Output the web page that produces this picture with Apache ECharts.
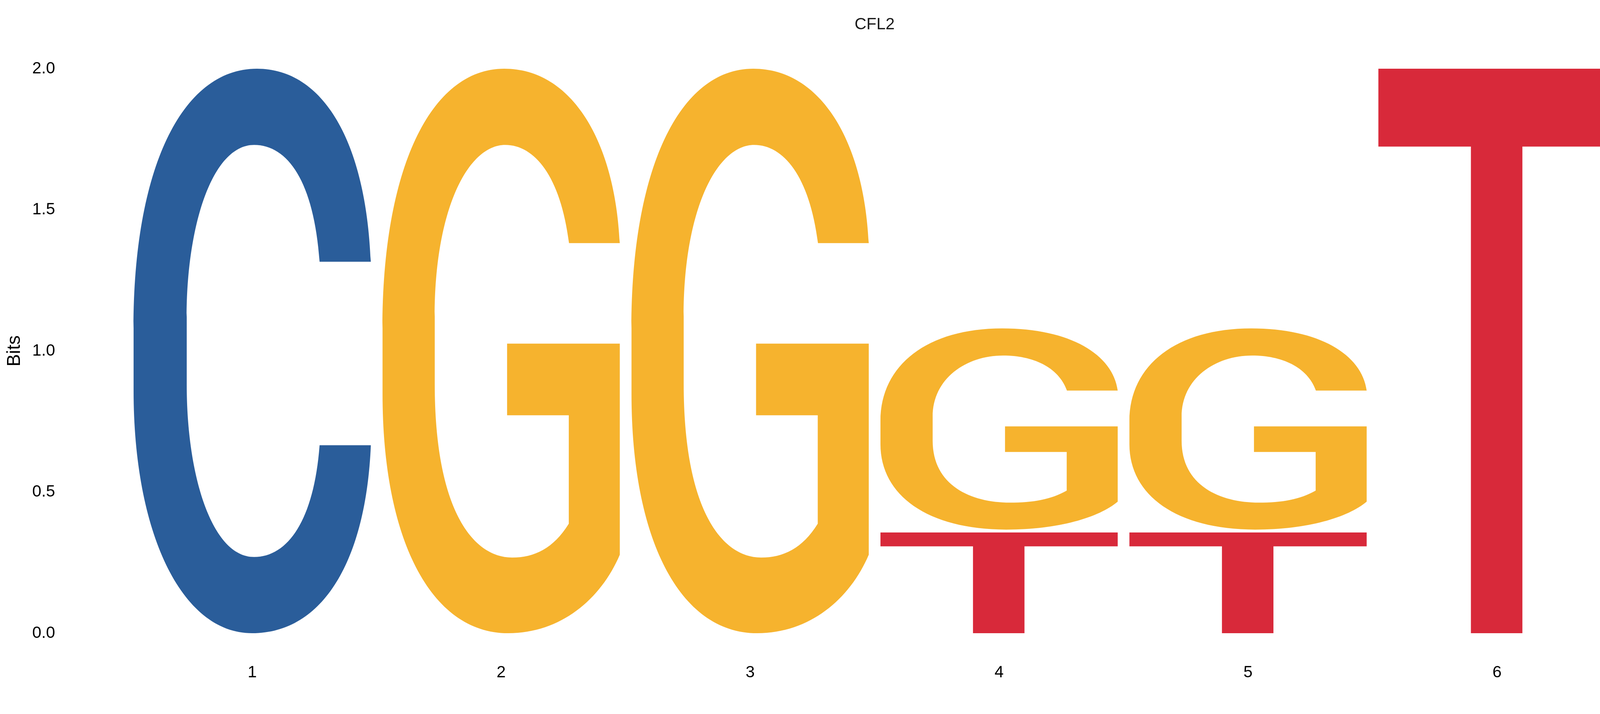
<!DOCTYPE html>
<html>
<head>
<meta charset="utf-8">
<script src="https://cdn.jsdelivr.net/npm/echarts@6/dist/echarts.min.js"></script>
<style>
html,body{margin:0;padding:0;background:#fff;}
#chart{width:4350px;height:1829px;}
</style>
</head>
<body>
<div id="chart"></div>
<script>
// ---- data ----
const positions = ['1', '2', '3', '4', '5', '6'];
const bitsC = [2.0, 0, 0, 0, 0, 0];
const bitsG = [0, 2.0, 2.0, 0.718, 0.718, 0];
const bitsT = [0, 0, 0, 0.362, 0.362, 2.0];
const bitsA = [0, 0, 0, 0, 0, 0];
const yTicks = [0, 0.5, 1.0, 1.5, 2.0];
const titleText = 'CFL2';
const yName = 'Bits';

// ---- glyph outlines (normalised 0..100 boxes) ----
const glyphs = {
  C: 'M100 34.2 C98 13 80 0 52 0 C20 0 0 18 0 46 L0 57 C0 82 20 100 50 100 C80 100 98 87 100 66.7 L78.4 66.7 C76 80 65 86.5 50.8 86.5 C33 86.5 22.4 72 22.4 56 L22.4 44 C22.4 28 33 13.5 50.8 13.5 C65 13.5 76 20 78.4 34.2 Z',
  G: 'M100 30.9 C98 13 80 0 51.3 0 C20 0 0 18 0 46 L0 57.6 C0 83 20 100 53 100 C75 100 92 94 100 86.1 L100 48.7 L52.5 48.7 L52.5 61.4 L78.5 61.4 L78.5 80.6 C72 85 64 86.6 54.6 86.6 C38 86.6 22 78 22 55.8 L22 43.9 C22 25 36 13.5 51.7 13.5 C64 13.5 75 19 78.6 30.9 Z',
  T: 'M0 0 L100 0 L100 13.8 L60.7 13.8 L60.7 100 L39 100 L39 13.8 L0 13.8 Z',
  A: 'M0 100 L38 0 L62 0 L100 100 L77 100 L69 78 L31 78 L23 100 Z M37 61 L63 61 L50 24 Z'
};
const colors = { C: '#2A5D9A', G: '#F6B32E', T: '#D8293A', A: '#3A9B47' };

// build stacked letter records (smallest at bottom)
const records = [];
positions.forEach(function (p, i) {
  const items = [['A', bitsA[i]], ['C', bitsC[i]], ['G', bitsG[i]], ['T', bitsT[i]]]
    .filter(function (d) { return d[1] > 0; })
    .sort(function (a, b) { return a[1] - b[1]; });
  let base = 0;
  items.forEach(function (d, k) {
    records.push({ value: [i, base, base + d[1]], letter: d[0], first: k === 0, last: k === items.length - 1 });
    base += d[1];
  });
});

const widthFrac = 0.953;
const stackGap = 0.005;

function renderItem(params, api) {
  const rec = records[params.dataIndex];
  const xi = api.value(0);
  let y0 = api.value(1), y1 = api.value(2);
  if (!rec.first) y0 += stackGap;
  if (!rec.last) y1 -= stackGap;
  const pb = api.coord([xi, y0]);
  const pt = api.coord([xi, y1]);
  const bw = api.size([1, 0])[0] * widthFrac;
  return {
    type: 'path',
    shape: {
      pathData: glyphs[rec.letter],
      x: pb[0] - bw / 2,
      y: pt[1],
      width: bw,
      height: pb[1] - pt[1],
      layout: 'cover'
    },
    style: { fill: colors[rec.letter], stroke: null }
  };
}

const FONT = '"Liberation Sans", Arial, sans-serif';
const chart = echarts.init(document.getElementById('chart'), null, { renderer: 'canvas' });
chart.setOption({
  animation: false,
  backgroundColor: '#ffffff',
  graphic: [{
    type: 'text',
    x: 2239, y: 63,
    style: { text: titleText, fontFamily: FONT, fontSize: 42, fill: '#1a1a1a', align: 'center', verticalAlign: 'middle' }
  }],
  grid: { left: 327, right: 199, top: 176, bottom: 207 },
  xAxis: {
    type: 'category',
    data: positions,
    boundaryGap: true,
    axisLine: { show: false },
    axisTick: { show: false },
    splitLine: { show: false },
    axisLabel: { fontFamily: FONT, fontSize: 42, color: '#000', margin: 80 }
  },
  yAxis: {
    type: 'value',
    min: yTicks[0],
    max: yTicks[yTicks.length - 1],
    interval: 0.5,
    name: yName,
    nameLocation: 'middle',
    nameGap: 265,
    nameTextStyle: { fontFamily: FONT, fontSize: 48, color: '#000' },
    axisLine: { show: false },
    axisTick: { show: false },
    splitLine: { show: false },
    axisLabel: {
      fontFamily: FONT, fontSize: 42, color: '#000', margin: 186,
      formatter: function (v) { return v.toFixed(1); }
    }
  },
  series: [{
    type: 'custom',
    renderItem: renderItem,
    encode: { x: 0, y: [1, 2] },
    data: records.map(function (r) { return r.value; })
  }]
});
</script>
</body>
</html>
